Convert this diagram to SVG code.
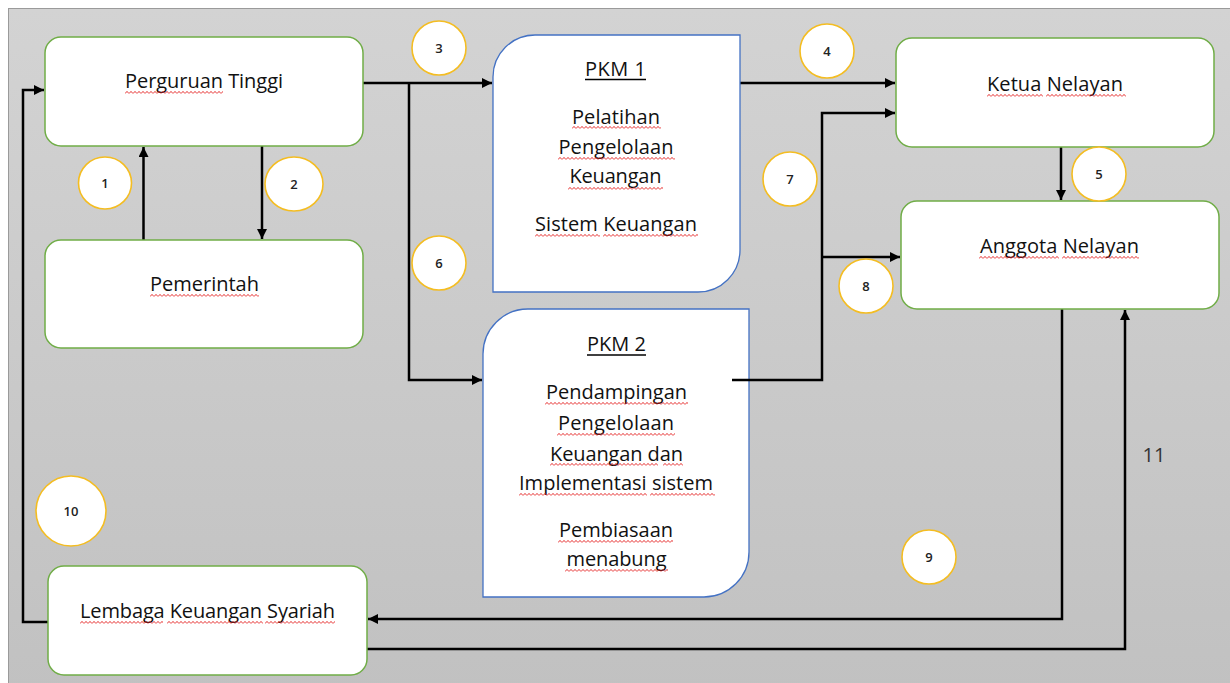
<svg xmlns="http://www.w3.org/2000/svg" width="1230" height="683" viewBox="0 0 1230 683">
<defs>
<linearGradient id="bg" x1="0" y1="0" x2="0" y2="1">
<stop offset="0" stop-color="#d3d3d3"/>
<stop offset="1" stop-color="#c1c1c1"/>
</linearGradient>
<pattern id="wave" width="4" height="3" patternUnits="userSpaceOnUse">
<path d="M0,2.6 L2,0.4 L4,2.6" fill="none" stroke="#e31b1b" stroke-width="0.9"/>
</pattern>
<marker id="ah" markerUnits="userSpaceOnUse" markerWidth="11" markerHeight="11" refX="10" refY="5" orient="auto">
<path d="M0,0 L10,5 L0,10 Z" fill="#000"/>
</marker>
</defs>
<style>
.box{fill:#fff;stroke:#70ad47;stroke-width:1.5}
.pkm{fill:#fff;stroke:#4472c4;stroke-width:1.3}
.lbl{font-family:"Open Sans","Liberation Sans",sans-serif;font-size:20px;fill:#111;text-anchor:middle}
.num{font-family:"Open Sans","Liberation Sans",sans-serif;font-size:13px;font-weight:600;fill:#222;text-anchor:middle}
.cir{fill:#fff;stroke:#f4bd22;stroke-width:1.6}
.ln{fill:none;stroke:#000;stroke-width:2.5}
.arr{fill:none;stroke:#000;stroke-width:2.5;marker-end:url(#ah)}
.sq{fill:url(#wave)}
</style>
<rect x="0" y="0" width="1230" height="683" fill="#fff"/>
<rect x="8.5" y="8.5" width="1230" height="683" fill="url(#bg)" stroke="#9a9a9a" stroke-width="1"/>

<g id="connectors">
<path class="arr" d="M143.5,240 V147"/>
<path class="arr" d="M262,146 V239"/>
<path class="arr" d="M363,83 H492"/>
<path class="arr" d="M409,83 V380 H482"/>
<path class="arr" d="M740,83 H895"/>
<path class="arr" d="M822,257 H900"/>
<path class="arr" d="M1061,147 V200"/>
<path class="arr" d="M1062,309 V619 H368"/>
<path class="arr" d="M48,622 H23 V90 H44"/>
<path class="arr" d="M367,649 H1125 V310"/>
</g>

<g id="perguruan-tinggi">
<rect class="box" x="45" y="37" width="318" height="109" rx="16"/>
<text class="lbl" x="204" y="88" textLength="158">Perguruan Tinggi</text>
<rect class="sq" transform="translate(125,91)" width="98" height="3"/>
</g>

<g id="pemerintah">
<rect class="box" x="45" y="240" width="318" height="108" rx="16"/>
<text class="lbl" x="204.5" y="291" textLength="109">Pemerintah</text>
<rect class="sq" transform="translate(150,294)" width="109" height="3"/>
</g>

<g id="pkm1">
<path class="pkm" d="M493,77 A42,42 0 0 1 535,35 H740 V250 A42,42 0 0 1 698,292 H493 Z"/>
<text class="lbl" x="615.5" y="76" textLength="61">PKM 1</text>
<line x1="585" y1="79.5" x2="646" y2="79.5" stroke="#000" stroke-width="1.3"/>
<text class="lbl" x="616" y="124" textLength="88">Pelatihan</text>
<text class="lbl" x="616" y="154" textLength="115">Pengelolaan</text>
<text class="lbl" x="615.5" y="183" textLength="92">Keuangan</text>
<text class="lbl" x="616" y="231" textLength="162">Sistem Keuangan</text>
<rect class="sq" transform="translate(572,126)" width="89" height="3"/>
<rect class="sq" transform="translate(558,157)" width="117" height="3"/>
<rect class="sq" transform="translate(568,187)" width="95" height="3"/>
<rect class="sq" transform="translate(535,234)" width="65" height="3"/>
<rect class="sq" transform="translate(603,234)" width="95" height="3"/>
</g>

<g id="pkm2">
<path class="pkm" d="M483,354 A45,45 0 0 1 528,309 H749 V552 A45,45 0 0 1 704,597 H483 Z"/>
<text class="lbl" x="616.5" y="351" textLength="59">PKM 2</text>
<line x1="587" y1="355" x2="646" y2="355" stroke="#000" stroke-width="1.3"/>
<text class="lbl" x="616.5" y="399" textLength="141">Pendampingan</text>
<text class="lbl" x="616" y="430" textLength="116">Pengelolaan</text>
<text class="lbl" x="616.5" y="461" textLength="133">Keuangan dan</text>
<text class="lbl" x="616" y="490" textLength="194">Implementasi sistem</text>
<text class="lbl" x="616" y="537" textLength="114">Pembiasaan</text>
<text class="lbl" x="616.5" y="566" textLength="100">menabung</text>
<rect class="sq" transform="translate(545,402)" width="143" height="3"/>
<rect class="sq" transform="translate(557,433)" width="118" height="3"/>
<rect class="sq" transform="translate(550,463)" width="108" height="3"/>
<rect class="sq" transform="translate(663,463)" width="20" height="3"/>
<rect class="sq" transform="translate(519,493)" width="128" height="3"/>
<rect class="sq" transform="translate(650,493)" width="65" height="3"/>
<rect class="sq" transform="translate(558,540)" width="115" height="3"/>
<rect class="sq" transform="translate(565,569)" width="103" height="3"/>
</g>

<g id="pkm2-out">
<path class="arr" d="M732,380 H822 V113 H895"/>
</g>

<g id="ketua-nelayan">
<rect class="box" x="896" y="38" width="318" height="109" rx="16"/>
<text class="lbl" x="1055" y="91" textLength="136">Ketua Nelayan</text>
<rect class="sq" transform="translate(987,94)" width="56" height="3"/>
<rect class="sq" transform="translate(1046,94)" width="80" height="3"/>
</g>

<g id="anggota-nelayan">
<rect class="box" x="901" y="201" width="318" height="108" rx="16"/>
<text class="lbl" x="1059.5" y="253" textLength="159">Anggota Nelayan</text>
<rect class="sq" transform="translate(979,256)" width="80" height="3"/>
<rect class="sq" transform="translate(1062,256)" width="77" height="3"/>
</g>

<g id="lembaga-keuangan-syariah">
<rect class="box" x="48" y="566" width="319" height="109" rx="16"/>
<text class="lbl" x="207.5" y="618" textLength="255">Lembaga Keuangan Syariah</text>
<rect class="sq" transform="translate(80,621)" width="83" height="3"/>
<rect class="sq" transform="translate(167,621)" width="96" height="3"/>
<rect class="sq" transform="translate(265,621)" width="70" height="3"/>
</g>

<g id="label-11">
<text class="lbl" x="1154" y="462" style="fill:#333">11</text>
</g>

<g id="badges">
<g id="n1"><ellipse class="cir" cx="105" cy="183" rx="26.5" ry="26"/><text class="num" x="105" y="187.5">1</text></g>
<g id="n2"><ellipse class="cir" cx="294" cy="184" rx="29" ry="27"/><text class="num" x="294" y="188.5">2</text></g>
<g id="n3"><circle class="cir" cx="439" cy="48" r="27"/><text class="num" x="439" y="52.5">3</text></g>
<g id="n4"><circle class="cir" cx="827" cy="51" r="27"/><text class="num" x="827" y="55.5">4</text></g>
<g id="n5"><circle class="cir" cx="1099" cy="174" r="27"/><text class="num" x="1099" y="178.5">5</text></g>
<g id="n6"><circle class="cir" cx="439" cy="263" r="27"/><text class="num" x="439" y="267.5">6</text></g>
<g id="n7"><circle class="cir" cx="790" cy="179" r="27"/><text class="num" x="790" y="183.5">7</text></g>
<g id="n8"><circle class="cir" cx="866" cy="286" r="27"/><text class="num" x="866" y="290.5">8</text></g>
<g id="n9"><circle class="cir" cx="929" cy="557" r="27"/><text class="num" x="929" y="561.5">9</text></g>
<g id="n10"><circle class="cir" cx="71" cy="511" r="35"/><text class="num" x="71" y="515.5">10</text></g>
</g>
</svg>
